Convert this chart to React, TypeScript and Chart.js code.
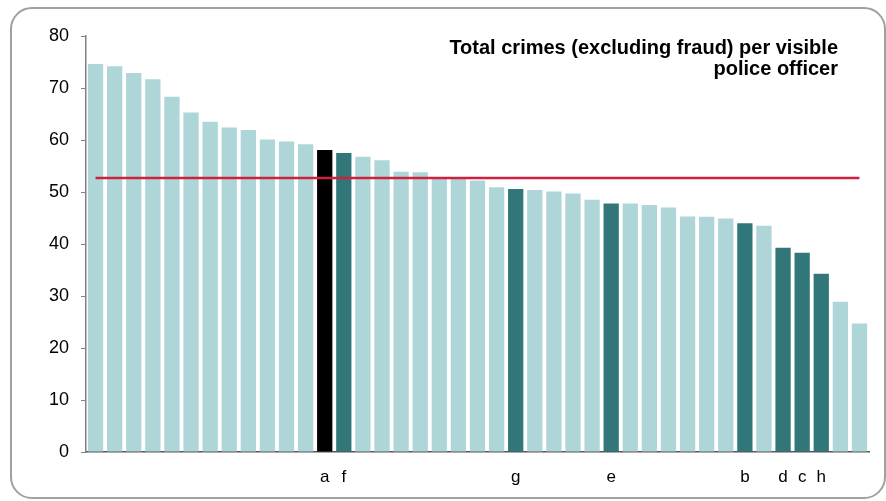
import React, { useEffect, useRef } from "react";
import { Chart, registerables } from "chart.js";

Chart.register(...registerables);

const categories = [
  "", "", "", "", "", "", "", "", "", "", "", "", "a", "f", "", "", "", "", "", "", "",
  "", "g", "", "", "", "", "e", "", "", "", "", "", "", "b", "", "d", "c", "h", "", "",
];
const values = [
  74.6, 74.2, 72.9, 71.7, 68.3, 65.3, 63.5, 62.4, 61.9, 60.1, 59.7, 59.2, 58.1, 57.5,
  56.8, 56.1, 53.9, 53.8, 52.7, 52.6, 52.2, 50.9, 50.6, 50.4, 50.1, 49.7, 48.5, 47.8,
  47.8, 47.5, 47.0, 45.3, 45.25, 44.9, 44.0, 43.5, 39.3, 38.3, 34.3, 28.9, 24.7,
];
// "h" = highlighted force, "s" = selected force, "n" = other
const groups = [
  "n", "n", "n", "n", "n", "n", "n", "n", "n", "n", "n", "n", "s", "h", "n", "n", "n", "n", "n", "n", "n",
  "n", "h", "n", "n", "n", "n", "h", "n", "n", "n", "n", "n", "n", "h", "n", "h", "h", "h", "n", "n",
];
const averageValue = 52.7;
const yTicks = { min: 0, max: 80, step: 10 };
const titleLines = ["Total crimes (excluding fraud) per visible", "police officer"];

const colorFor: Record<string, string> = { n: "#aed5d8", h: "#317779", s: "#000000" };
const FONT = "'Liberation Sans', Arial, sans-serif";

export default function App() {
  const ref = useRef<HTMLCanvasElement>(null);
  useEffect(() => {
    if (!ref.current) return;
    const titlePlugin = {
      id: "cornerTitle",
      afterDraw(chart: any) {
        const ctx = chart.ctx;
        ctx.save();
        ctx.font = `bold 20px ${FONT}`;
        ctx.fillStyle = "#000";
        ctx.textAlign = "right";
        ctx.textBaseline = "middle";
        ctx.fillText(titleLines[0], 838, 48);
        ctx.fillText(titleLines[1], 838, 69);
        ctx.restore();
      },
    };
    const chart = new Chart(ref.current, {
      type: "bar",
      data: {
        labels: categories,
        datasets: [
          {
            type: "line",
            data: values.map(() => averageValue),
            borderColor: "#d0203f",
            borderWidth: 2.5,
            pointRadius: 0,
            order: 0,
          } as any,
          {
            type: "bar",
            data: values,
            backgroundColor: groups.map((g) => colorFor[g]),
            borderWidth: 0,
            barPercentage: 0.8,
            categoryPercentage: 1,
            order: 1,
          },
        ],
      },
      plugins: [titlePlugin],
      options: {
        responsive: false,
        animation: false,
        devicePixelRatio: 1,
        layout: { padding: { top: 36, right: 17, left: 0, bottom: 0 } },
        plugins: { legend: { display: false }, tooltip: { enabled: false }, title: { display: false } },
        scales: {
          x: {
            grid: { display: true, drawOnChartArea: false, drawTicks: false },
            border: { display: true, color: "#555555", width: 1.5 },
            ticks: {
              autoSkip: false,
              maxRotation: 0,
              padding: 15,
              color: "#000",
              font: { family: FONT, size: 17 },
            },
            afterFit: (s: any) => {
              s.height = 49;
            },
          },
          y: {
            min: yTicks.min,
            max: yTicks.max,
            ticks: {
              stepSize: yTicks.step,
              padding: 12,
              color: "#000",
              font: { family: FONT, size: 18 },
            },
            grid: { drawOnChartArea: false, drawTicks: true, tickLength: 5, color: "#808080" },
            border: { display: true, color: "#808080", width: 1.5 },
            afterFit: (s: any) => {
              s.width = 86;
            },
          },
        },
      },
    });
    return () => chart.destroy();
  }, []);
  return (
    <div style={{ position: "absolute", left: 0, top: 0, width: 886, height: 501, background: "#fff" }}>
      <div
        style={{
          position: "absolute",
          left: 10,
          top: 7,
          width: 876,
          height: 492,
          boxSizing: "border-box",
          border: "2px solid #a0a0a0",
          borderRadius: 22,
        }}
      />
      <canvas ref={ref} width={886} height={501} style={{ position: "absolute", left: 0, top: 0 }} />
    </div>
  );
}
